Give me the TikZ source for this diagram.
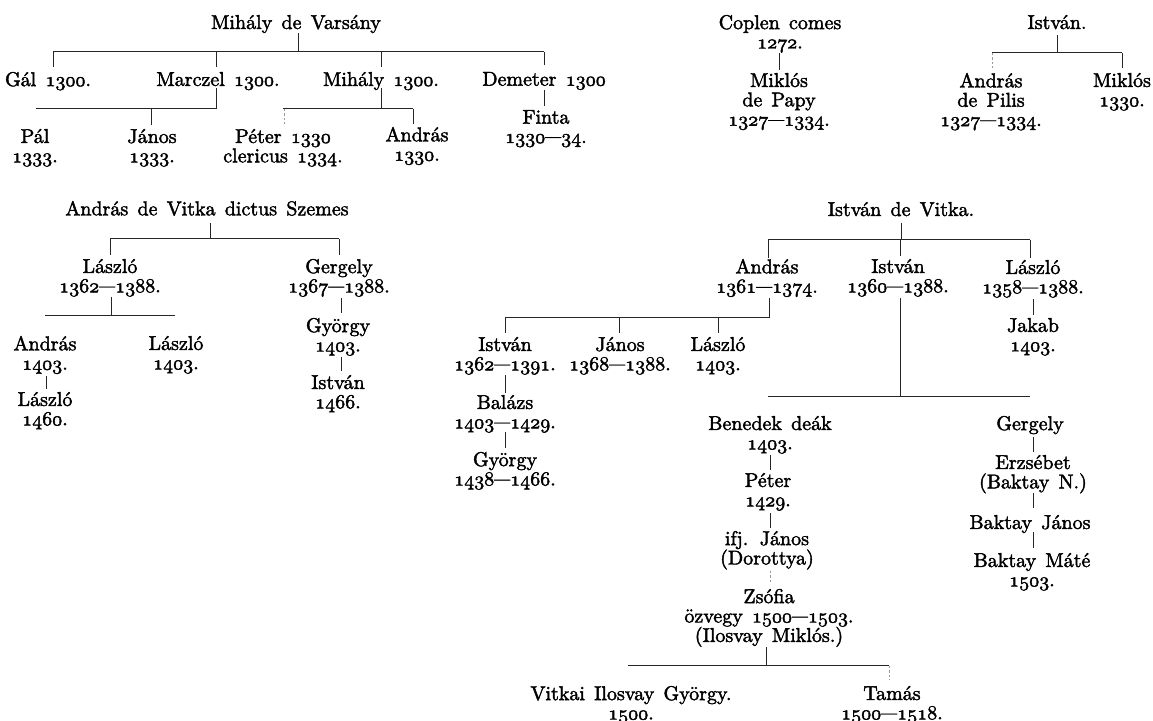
\documentclass[tikz,border=0pt]{standalone}
\usepackage{graphicx}
\newcommand\os[1]{\ensuremath{\mathnormal{#1}}}
\newcommand\yd{\scalebox{0.8}[1]{—}}
\DeclareRobustCommand\pnfont{\fontsize{10}{9.7}\selectfont\spaceskip 4.6pt\relax\special{pdf:literal direct 2 Tr 0.2 w}}
\tikzset{
  pn/.style={anchor=north, inner sep=0pt, outer sep=0pt, align=center,
    font=\pnfont, execute at begin node=\strut},
  ln/.style={line width=0.5pt, draw=black!85},
  fl/.style={line width=0.4pt, draw=black!40, dash pattern=on 1.2pt off 1pt},
}
\begin{document}
\begin{tikzpicture}[x=0.5pt,y=-0.5pt]
\path[use as bounding box] (0,0) rectangle (1153,721);
% ---------- Tree 1: Mihály de Varsány
\node[pn] (mv) at (296,15) {Mihály de Varsány};
\node[pn] (gal) at (48,72) {Gál \os{1300}.};
\node[pn] (marczel) at (218,72) {Marczel \os{1300}.};
\node[pn] (mihaly) at (381,72) {Mihály \os{1300}.};
\node[pn] (demeter) at (544,72) {Demeter \os{1300}};
\node[pn] (pal) at (35,129) {Pál\\\os{1333}.};
\node[pn] (janos1) at (152,129) {János\\\os{1333}.};
\node[pn] (peter1) at (283,129) {Péter \os{1330}\\clericus \os{1334}.};
\node[pn] (andras1) at (417,127) {András\\\os{1330}.};
\node[pn] (finta) at (546,110) {Finta\\\os{1330}\yd\os{34}.};
\coordinate (mvA) at (298,33); \coordinate (mvB) at (298,52);
\coordinate (mvL) at (53,52); \coordinate (mvR) at (544,52);
\draw[ln] (mvA) -- (mvB);
\draw[ln] (mvL) -- (mvR);
\coordinate (galT) at (53,67); \coordinate (mzT) at (216,67);
\coordinate (mhT) at (381,67); \coordinate (dmT) at (544,65);
\foreach \c in {galT,mzT,mhT,dmT} \draw[ln] (\c |- mvB) -- (\c);
\coordinate (mzA) at (216,88); \coordinate (mzB) at (216,109); \coordinate (mzL) at (36,109);
\draw[ln] (mzA) -- (mzB); \draw[ln] (mzL) -- (mzB);
\coordinate (jnT) at (151,125); \draw[ln] (jnT |- mzB) -- (jnT);
\coordinate (mhA) at (381,88); \coordinate (mhB) at (381,109);
\coordinate (mhL) at (283,109); \coordinate (mhR) at (413,109);
\draw[ln] (mhA) -- (mhB); \draw[ln] (mhL) -- (mhR);
\coordinate (ptT) at (284,124); \draw[fl] (ptT |- mhL) -- (ptT);
\coordinate (anT) at (413,124); \draw[ln] (mhR) -- (anT);
\coordinate (dmA) at (544,90); \coordinate (dmB) at (544,106);
\draw[ln] (dmA) -- (dmB);
% ---------- Tree 2: Coplen comes
\node[pn] (coplen) at (780,15) {Coplen comes\\\os{1272}.};
\node[pn] (miklos2) at (779,73) {Miklós\\de Papy\\\os{1327}\yd\os{1334}.};
\coordinate (cpA) at (779,53); \coordinate (cpB) at (779,70);
\draw[ln] (cpA) -- (cpB);
% ---------- Tree 3: István.
\node[pn] (istvan3) at (1057,15) {István.};
\node[pn] (andras3) at (991,73) {András\\de Pilis\\\os{1327}\yd\os{1334}.};
\node[pn] (miklos3) at (1122,73) {Miklós\\\os{1330}.};
\coordinate (i3A) at (1057,35); \coordinate (i3B) at (1057,53);
\coordinate (i3L) at (992,53); \coordinate (i3R) at (1122,53);
\draw[ln] (i3A) -- (i3B); \draw[ln] (i3L) -- (i3R);
\coordinate (a3T) at (992,68); \coordinate (m3T) at (1122,68);
\draw[fl] (i3L) -- (a3T); \draw[ln] (i3R) -- (m3T);
% ---------- Tree 4: András de Vitka dictus Szemes
\node[pn] (adv) at (207,201) {András de Vitka dictus Szemes};
\node[pn] (laszlo2) at (110,259) {László\\\os{1362}\yd\os{1388}.};
\node[pn] (gergely2) at (339,259) {Gergely\\\os{1367}\yd\os{1388}.};
\node[pn] (andras2) at (45,336) {András\\\os{1403}.};
\node[pn] (laszlo3) at (176,336) {László\\\os{1403}.};
\node[pn] (laszlo4) at (45,392) {László\\\os{1460}.};
\node[pn] (gyorgy2) at (338,318) {György\\\os{1403}.};
\node[pn] (istvan2) at (338,375) {István\\\os{1466}.};
\coordinate (avA) at (210,223); \coordinate (avB) at (210,239);
\coordinate (avL) at (110,239); \coordinate (avR) at (339,239);
\draw[ln] (avA) -- (avB); \draw[ln] (avL) -- (avR);
\coordinate (l2T) at (110,255); \coordinate (g2T) at (339,255);
\draw[ln] (avL) -- (l2T); \draw[ln] (avR) -- (g2T);
\coordinate (l2A) at (111,297); \coordinate (l2B) at (111,316);
\coordinate (l2L) at (45,316); \coordinate (l2R) at (175,316);
\draw[ln] (l2A) -- (l2B); \draw[ln] (l2L) -- (l2R);
\coordinate (a2A) at (46,376); \coordinate (a2B) at (46,389);
\draw[ln] (a2A) -- (a2B);
\coordinate (g2A) at (341,298); \coordinate (g2B) at (341,313);
\draw[ln] (g2A) -- (g2B);
\coordinate (y2A) at (341,357); \coordinate (y2B) at (341,371);
\draw[ln] (y2A) -- (y2B);
% ---------- Tree 5: István de Vitka
\node[pn] (idv) at (901,202) {István de Vitka.};
\node[pn] (andras5) at (767,259) {András\\\os{1361}\yd\os{1374}.};
\node[pn] (istvan5) at (898,259) {István\\\os{1360}\yd\os{1388}.};
\node[pn] (laszlo5) at (1033,260) {László\\\os{1358}\yd\os{1388}.};
\node[pn] (jakab) at (1033,318) {Jakab\\\os{1403}.};
\node[pn] (istvan6) at (505,337) {István\\\os{1362}\yd\os{1391}.};
\node[pn] (janos6) at (620,337) {János\\\os{1368}\yd\os{1388}.};
\node[pn] (laszlo6) at (718,337) {László\\\os{1403}.};
\node[pn] (balazs) at (505,395) {Balázs\\\os{1403}\yd\os{1429}.};
\node[pn] (gyorgy6) at (505,452) {György\\\os{1438}\yd\os{1466}.};
\node[pn] (benedek) at (770,416) {Benedek deák\\\os{1403}.};
\node[pn] (peter6) at (768,473) {Péter\\\os{1429}.};
\node[pn] (ifjjanos) at (767,531) {ifj. János\\(Dorottya)};
\node[pn] (zsofia) at (769,589) {Zsófia\\özvegy \os{1500}\yd\os{1503}.\\(Ilosvay Miklós.)};
\node[pn] (vitkai) at (631,686) {Vitkai Ilosvay György.\\\os{1500}.};
\node[pn] (tamas) at (892,686) {Tamás\\\os{1500}\yd\os{1518}.};
\node[pn] (gergely5) at (1030,416) {Gergely};
\node[pn] (erzsebet) at (1033,455) {Erzsébet\\(Baktay N.)};
\node[pn] (baktayj) at (1030,515) {Baktay János};
\node[pn] (baktaym) at (1032,553) {Baktay Máté\\\os{1503}.};
\coordinate (ivA) at (901,223); \coordinate (ivB) at (901,240);
\coordinate (ivL) at (768,240); \coordinate (ivR) at (1030,240);
\draw[ln] (ivA) -- (ivB); \draw[ln] (ivL) -- (ivR);
\coordinate (a5T) at (768,258); \coordinate (i5T) at (900,256); \coordinate (l5T) at (1030,258);
\foreach \c in {a5T,i5T,l5T} \draw[ln] (\c |- ivB) -- (\c);
\coordinate (a5A) at (769,298); \coordinate (a5B) at (769,318); \coordinate (a5L) at (505,318);
\draw[ln] (a5A) -- (a5B); \draw[ln] (a5L) -- (a5B);
\coordinate (i6T) at (505,333); \coordinate (j6T) at (619,333); \coordinate (l6T) at (718,333);
\foreach \c in {i6T,j6T,l6T} \draw[ln] (\c |- a5B) -- (\c);
\coordinate (i6A) at (505,375); \coordinate (i6B) at (505,393); \draw[ln] (i6A) -- (i6B);
\coordinate (b6A) at (505,432); \coordinate (b6B) at (505,448); \draw[ln] (b6A) -- (b6B);
\coordinate (l5A) at (1033,299); \coordinate (l5B) at (1033,315); \draw[ln] (l5A) -- (l5B);
\coordinate (i5A) at (900,298); \coordinate (i5B) at (900,397);
\coordinate (i5L) at (768,397); \coordinate (i5R) at (1030,397);
\draw[ln] (i5A) -- (i5B); \draw[ln] (i5L) -- (i5R);
\coordinate (bdA) at (770,455); \coordinate (bdB) at (770,470); \draw[ln] (bdA) -- (bdB);
\coordinate (p6A) at (770,513); \coordinate (p6B) at (770,528); \draw[ln] (p6A) -- (p6B);
\coordinate (ijA) at (770,571); \coordinate (ijB) at (770,583); \draw[fl] (ijA) -- (ijB);
\coordinate (zsA) at (766,647); \coordinate (zsB) at (766,666);
\coordinate (zsL) at (628,666); \coordinate (zsR) at (889,666);
\draw[ln] (zsA) -- (zsB); \draw[ln] (zsL) -- (zsR);
\coordinate (tmT) at (889,680); \draw[fl] (zsR) -- (tmT);
\coordinate (gbA) at (1033,437); \coordinate (gbB) at (1033,452); \draw[ln] (gbA) -- (gbB);
\coordinate (ebA) at (1033,493); \coordinate (ebB) at (1033,508); \draw[ln] (ebA) -- (ebB);
\coordinate (bjA) at (1033,532); \coordinate (bjB) at (1033,548); \draw[ln] (bjA) -- (bjB);
\end{tikzpicture}
\end{document}
